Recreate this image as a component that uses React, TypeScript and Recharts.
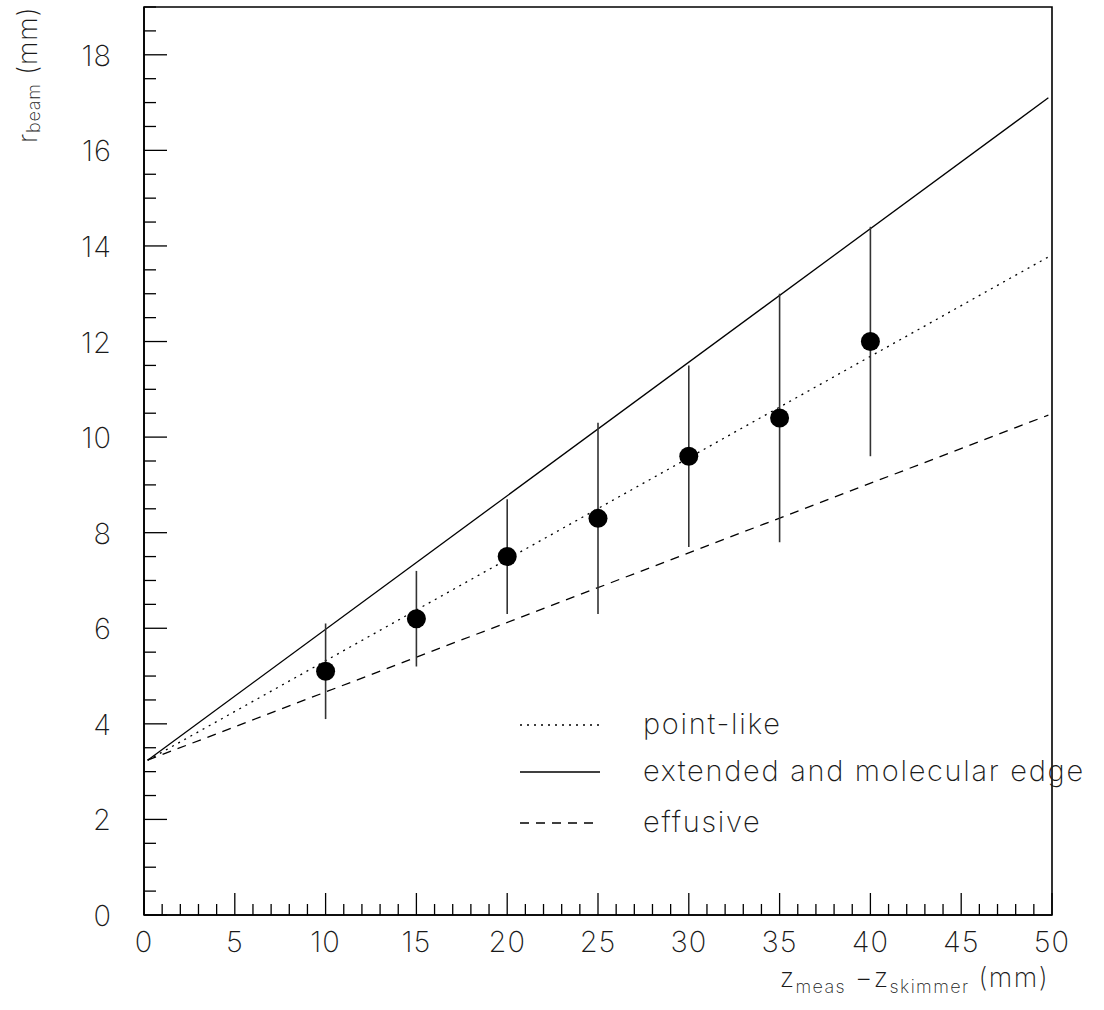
import React from "react";
import { ComposedChart, Line, Scatter, XAxis, YAxis, ErrorBar, ReferenceArea } from "recharts";

// measured beam radius vs. distance behind the skimmer
const zMeas = [10, 15, 20, 25, 30, 35, 40];
const rBeam = [5.1, 6.2, 7.5, 8.3, 9.6, 10.4, 12.0];
const rErr = [1.0, 1.0, 1.2, 2.0, 1.9, 2.6, 2.4];

// model curves (straight lines, end points)
const modelZ = [0.2, 49.8];
const pointLike = [3.24, 13.77];
const extended = [3.24, 17.1];
const effusive = [3.24, 10.46];

const xLabels = [0, 5, 10, 15, 20, 25, 30, 35, 40, 45, 50];
const yLabels = [0, 2, 4, 6, 8, 10, 12, 14, 16, 18];

const legendItems = [
  { name: "point-like", dash: "2 5" },
  { name: "extended and molecular edge", dash: "" },
  { name: "effusive", dash: "9 7" },
];

const xTicks: number[] = [];
for (let i = 0; i <= 50; i++) xTicks.push(i);
const yTicks: number[] = [];
for (let i = 0; i <= 38; i++) yTicks.push(i / 2);

const FONT = "Inter, 'DejaVu Sans', sans-serif";
const TEXT = "#1a1a1a";

const points = zMeas.map((z, i) => ({ z, r: rBeam[i], err: rErr[i] }));
const toLine = (ys: number[]) => modelZ.map((z, i) => ({ z, r: ys[i] }));

const YTick = (props: any) => {
  const { x, y, payload } = props;
  const major = yLabels.includes(payload.value);
  return (
    <g>
      <line x1={x} x2={x + (major ? 23 : 12)} y1={y} y2={y} stroke="#000" strokeWidth={1.3} />
      {major && (
        <text x={x - 32} y={y + 11} textAnchor="end" fontSize={29} fontFamily={FONT} fontWeight={200} fill={TEXT} letterSpacing={1}>
          {payload.value}
        </text>
      )}
    </g>
  );
};

const XTick = (props: any) => {
  const { x, y, payload } = props;
  const major = xLabels.includes(payload.value);
  return (
    <g>
      <line x1={x} x2={x} y1={y} y2={y - (major ? 22 : 11)} stroke="#000" strokeWidth={1.3} />
      {major && (
        <text x={x} y={y + 37} textAnchor="middle" fontSize={29} fontFamily={FONT} fontWeight={200} fill={TEXT} letterSpacing={1}>
          {payload.value}
        </text>
      )}
    </g>
  );
};

const Dot = (props: any) => <circle cx={props.cx} cy={props.cy} r={9.5} fill="#000" />;

export default function App() {
  return (
    <div style={{ position: "relative", width: 1104, height: 1010, background: "#fff" }}>
      <style>{"body{margin:0}"}</style>
      <ComposedChart width={1104} height={1010} margin={{ top: 7, right: 52, bottom: 0, left: 0 }}>
        <XAxis
          type="number"
          dataKey="z"
          domain={[0, 50]}
          ticks={xTicks}
          interval={0}
          tickLine={false}
          tickSize={0}
          tickMargin={0}
          tick={<XTick />}
          height={95}
          axisLine={{ stroke: "#000", strokeWidth: 1.6 }}
          label={{
            content: () => (
              <text x={1049} y={987} textAnchor="end" fontSize={27} fontFamily={FONT} fontWeight={200} fill={TEXT} letterSpacing={1.4}>
                z<tspan fontSize={18} dy={6}>meas</tspan>
                <tspan dy={-6}> −z</tspan>
                <tspan fontSize={18} dy={6}>skimmer</tspan>
                <tspan dy={-6}> (mm)</tspan>
              </text>
            ),
          }}
        />
        <YAxis
          type="number"
          dataKey="r"
          domain={[0, 19]}
          ticks={yTicks}
          interval={0}
          tickLine={false}
          tickSize={0}
          tickMargin={0}
          tick={<YTick />}
          width={144}
          axisLine={{ stroke: "#000", strokeWidth: 1.6 }}
          label={{
            content: () => (
              <text
                transform="translate(37,143) rotate(-90)"
                textAnchor="start"
                fontSize={27}
                fontFamily={FONT}
                fontWeight={200}
                fill={TEXT}
                letterSpacing={0.8}
              >
                r<tspan fontSize={18} dy={3}>beam</tspan>
                <tspan dy={-3}> (mm)</tspan>
              </text>
            ),
          }}
        />
        <ReferenceArea x1={0} x2={50} y1={0} y2={19} fill="none" stroke="#000" strokeWidth={1.6} ifOverflow="visible" />
        <Line data={toLine(extended)} dataKey="r" stroke="#000" strokeWidth={1.3} dot={false} isAnimationActive={false} />
        <Line data={toLine(pointLike)} dataKey="r" stroke="#000" strokeWidth={1.3} strokeDasharray="2 5" dot={false} isAnimationActive={false} />
        <Line data={toLine(effusive)} dataKey="r" stroke="#000" strokeWidth={1.3} strokeDasharray="9 7" dot={false} isAnimationActive={false} />
        <Scatter data={points} dataKey="r" shape={<Dot />} isAnimationActive={false}>
          <ErrorBar dataKey="err" direction="y" width={0} stroke="#333" strokeWidth={1.6} />
        </Scatter>
      </ComposedChart>
      <svg width={600} height={140} style={{ position: "absolute", left: 515, top: 700, overflow: "visible" }}>
        {legendItems.map((it, i) => {
          const y = [25, 72, 123][i];
          return (
            <g key={it.name}>
              <line x1={5} x2={85} y1={y} y2={y} stroke="#000" strokeWidth={1.3} strokeDasharray={it.dash || undefined} />
              <text x={128} y={y + 9} fontSize={29} fontFamily={FONT} fontWeight={200} fill={TEXT} letterSpacing={1.7}>
                {it.name}
              </text>
            </g>
          );
        })}
      </svg>
    </div>
  );
}
